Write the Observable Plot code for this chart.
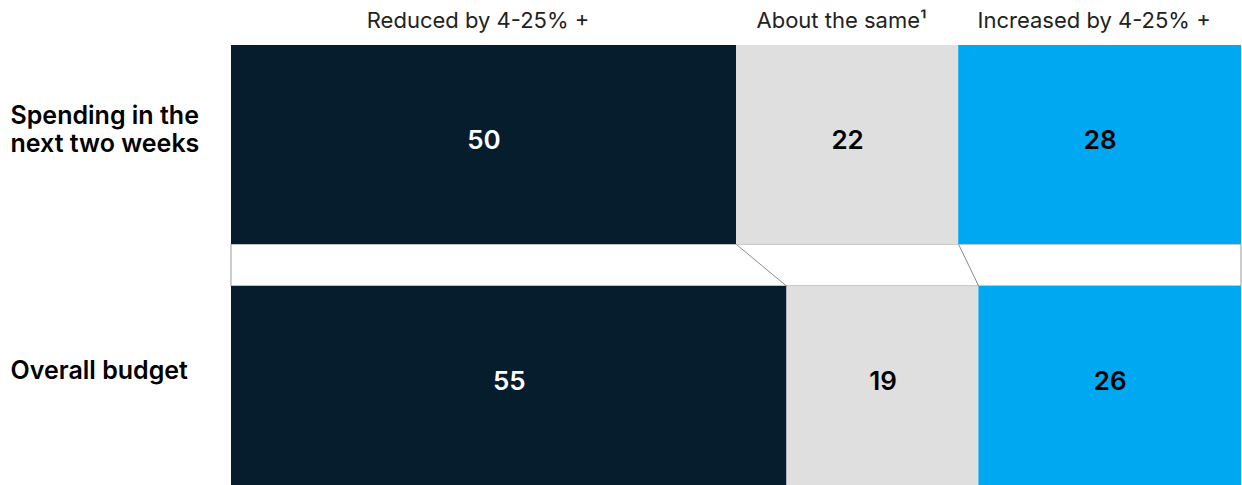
<!DOCTYPE html>
<html><head><meta charset="utf-8">
<script src="https://cdn.jsdelivr.net/npm/d3@7"></script>
<script src="https://cdn.jsdelivr.net/npm/@observablehq/plot@0.6"></script>
<style>html,body{margin:0;padding:0;background:#fff}svg{display:block}</style>
</head><body><div id="chart"></div>
<script>
const rows = ["Spending in the\nnext two weeks", "Overall budget"];
const categories = ["Reduced by 4-25% +", "About the same\u00b9", "Increased by 4-25% +"];
const spending = [50, 22, 28];
const budget = [55, 19, 26];
const colors = ["#061d2e", "#dfdfdf", "#00a8f2"];

const barFrac = 0.826; // bar thickness as a share of a row step
const series = [spending, budget];
const segs = [];
series.forEach((vals, r) => {
  let acc = 0;
  vals.forEach((v, c) => {
    segs.push({row: rows[r], r, c, cat: categories[c], value: v, x1: acc, x2: acc + v});
    acc += v;
  });
});
const cum = (vals, c) => d3.sum(vals.slice(0, c + 1));
const connectors = [0, 1].map(c => ({xa: cum(spending, c), xb: cum(budget, c)}));
const mid = d => (d.x1 + d.x2) / 2;

const font = "Inter, 'Liberation Sans', sans-serif";
const chart = Plot.plot({
  width: 1242,
  height: 485,
  marginTop: 45,
  marginBottom: 0,
  marginLeft: 231,
  marginRight: 1,
  x: {domain: [0, 100], axis: null},
  y: {domain: [0, 1 + barFrac], axis: null, reverse: true},
  color: {domain: categories, range: colors},
  style: {fontFamily: font, background: "#fff"},
  marks: [
    Plot.rect([{}], {x1: 0, x2: 100, y1: barFrac, y2: 1, fill: "white", stroke: "#9a9a9a", strokeWidth: 1}),
    Plot.rect(segs, {x1: "x1", x2: "x2", y1: d => d.r, y2: d => d.r + barFrac, fill: "cat"}),
    Plot.link(connectors, {x1: "xa", y1: barFrac, x2: "xb", y2: 1, stroke: "#8a8a8a", strokeWidth: 1}),
    Plot.text(segs.filter(d => d.c === 0), {x: mid, y: d => d.r + barFrac / 2, text: d => String(d.value), fill: "white", fontSize: 26, fontWeight: 600, dy: -4}),
    Plot.text(segs.filter(d => d.c !== 0), {x: mid, y: d => d.r + barFrac / 2, text: d => String(d.value), fill: "black", fontSize: 26, fontWeight: 600, dy: -4}),
    Plot.text(segs.filter(d => d.r === 0), {x: mid, y: 0, text: "cat", fill: "#222", fontSize: 22, fontWeight: 400, lineAnchor: "bottom", dy: -18, dx: -6}),
    Plot.text(rows, {x: 0, y: (d, i) => i + barFrac / 2, text: d => d, textAnchor: "start", dx: -221, dy: -16, fill: "#000", fontSize: 25, fontWeight: 600, lineHeight: 1.12})
  ]
});
document.getElementById("chart").append(chart);
</script>
</body></html>
